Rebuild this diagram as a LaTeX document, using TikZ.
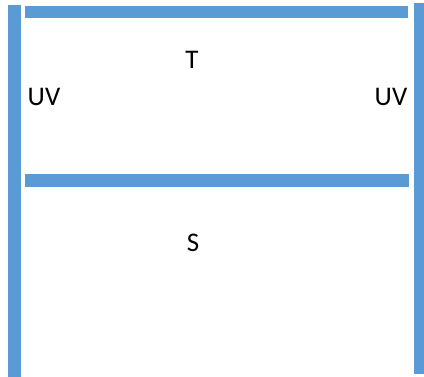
\documentclass[tikz,border=0pt]{standalone}
\usepackage{fontspec}
\setmainfont{Carlito}
\usepackage{tikz}
\usetikzlibrary{positioning}
\definecolor{barblue}{RGB}{91,155,213}

\begin{document}
\begin{tikzpicture}[x=1bp, y=1bp, font=\fontsize{27}{32}\selectfont,
bar/.style={fill=barblue, draw=none},
label/.style={inner sep=0pt, anchor=center}
]

% Frame
\useasboundingbox (0,0) rectangle (424,377);

% Left and right bars
\fill[bar] (8,0) rectangle (21,372);
\fill[bar] (414,3) rectangle (424,374);

% Top and middle bars
\fill[bar] (25,359) rectangle (408,371);
\fill[bar] (25,190) rectangle (409,203);

% Labels
\node[label] (t) at (192,317) {T};
\node[label] (uvleft) at (44,280) {UV};
\node[label] (uvright) at (391,280) {UV};
\node[label] (s) at (193,134) {S};

\end{tikzpicture}
\end{document}
